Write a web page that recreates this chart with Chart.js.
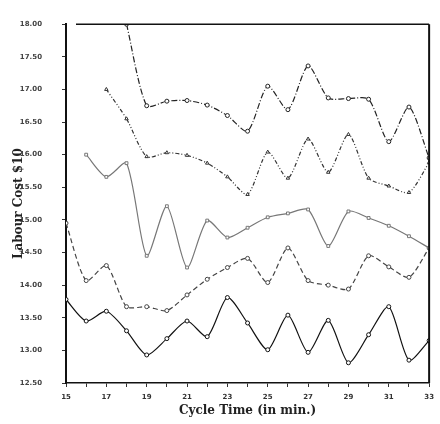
<!DOCTYPE html>
<html>
<head>
<meta charset="utf-8">
<script src="https://cdn.jsdelivr.net/npm/chart.js@4.4.1/dist/chart.umd.min.js"></script>
<style>
  body { margin: 0; background: #fff; }
  canvas { display: block; }
</style>
</head>
<body>
<canvas id="costChart" width="440" height="424"></canvas>
<script>
// cycle time (min.) on the x axis
const cycles = [15, 16, 17, 18, 19, 20, 21, 22, 23, 24, 25, 26, 27, 28, 29, 30, 31, 32, 33];

// labour cost, five curves, top to bottom
const curveA = [null, null, null, 18.0, 16.75, 16.82, 16.83, 16.76, 16.6, 16.36, 17.05, 16.69, 17.36, 16.87, 16.86, 16.85, 16.2, 16.73, 15.95];
const curveB = [null, null, 17.0, 16.55, 15.97, 16.03, 15.99, 15.87, 15.66, 15.39, 16.04, 15.64, 16.24, 15.73, 16.31, 15.64, 15.52, 15.42, 15.88];
const curveC = [null, 16.0, 15.66, 15.87, 14.45, 15.21, 14.27, 14.99, 14.73, 14.88, 15.04, 15.1, 15.16, 14.6, 15.13, 15.03, 14.91, 14.75, 14.57];
const curveD = [14.95, 14.07, 14.3, 13.67, 13.67, 13.61, 13.85, 14.09, 14.27, 14.41, 14.04, 14.57, 14.07, 14.0, 13.94, 14.45, 14.28, 14.12, 14.57];
const curveE = [13.78, 13.45, 13.6, 13.3, 12.93, 13.18, 13.45, 13.21, 13.81, 13.42, 13.01, 13.54, 12.97, 13.46, 12.81, 13.24, 13.67, 12.85, 13.15];

function pts(arr) {
    return cycles.map((c, i) => ({ x: c, y: arr[i] }));
}

function curve(label, arr, color, dash, marker) {
    return {
        label: label,
        data: pts(arr),
        borderColor: color,
        borderWidth: 1.2,
        borderDash: dash,
        tension: 0.25,
        pointStyle: marker,
        pointRadius: 2,
        pointBorderWidth: 1,
        pointBorderColor: color,
        pointBackgroundColor: '#fff'
    };
}

// top and right edges of the frame
const framePlugin = {
    id: 'frame',
    afterDraw(chart) {
        const a = chart.chartArea;
        const ctx = chart.ctx;
        ctx.save();
        ctx.strokeStyle = '#111';
        ctx.lineWidth = 1.5;
        ctx.beginPath();
        ctx.moveTo(a.left + 10, a.top);
        ctx.lineTo(a.right, a.top);
        ctx.stroke();
        ctx.lineWidth = 2;
        ctx.beginPath();
        ctx.moveTo(a.right, a.top);
        ctx.lineTo(a.right, a.bottom);
        ctx.stroke();
        ctx.restore();
    }
};

new Chart(document.getElementById('costChart'), {
    type: 'line',
    data: {
        datasets: [
            curve('A', curveA, '#222', [6, 2, 1, 2], 'circle'),
            curve('B', curveB, '#333', [4, 2, 1, 2, 1, 2], 'triangle'),
            curve('C', curveC, '#777', [], 'rect'),
            curve('D', curveD, '#444', [5, 3], 'circle'),
            curve('E', curveE, '#111', [], 'circle')
        ]
    },
    options: {
        responsive: false,
        animation: false,
        layout: { padding: { left: 0, right: 7, top: 14, bottom: 0 } },
        plugins: {
            legend: { display: false },
            tooltip: { enabled: false }
        },
        scales: {
            x: {
                type: 'linear',
                min: 15,
                max: 33,
                afterFit(scale) { scale.height = 41; },
                border: { color: '#111', width: 1.5 },
                grid: { drawOnChartArea: false, tickLength: 4, color: '#333' },
                ticks: {
                    stepSize: 1,
                    autoSkip: false,
                    maxRotation: 0,
                    padding: 6,
                    color: '#333',
                    font: { family: 'DejaVu Sans', size: 7, weight: 'bold' },
                    callback: v => (v % 2 === 1 ? String(v) : '')
                },
                title: {
                    display: true,
                    text: 'Cycle Time (in min.)',
                    color: '#222',
                    padding: { top: 0, bottom: 6 },
                    font: { family: 'DejaVu Serif', size: 12, weight: 'bold' }
                }
            },
            y: {
                min: 12.5,
                max: 18,
                afterFit(scale) { scale.width = 66; },
                border: { color: '#111', width: 2 },
                grid: { drawOnChartArea: false, tickLength: 4, color: '#333' },
                ticks: {
                    stepSize: 0.5,
                    padding: 20,
                    color: '#444',
                    font: { family: 'DejaVu Sans', size: 7, weight: 'bold' },
                    callback: v => v.toFixed(2)
                },
                title: {
                    display: true,
                    text: 'Labour Cost $10',
                    color: '#222',
                    padding: { top: 12, bottom: 0 },
                    font: { family: 'DejaVu Serif', size: 12, weight: 'bold' }
                }
            }
        }
    },
    plugins: [framePlugin]
});
</script>
</body>
</html>
